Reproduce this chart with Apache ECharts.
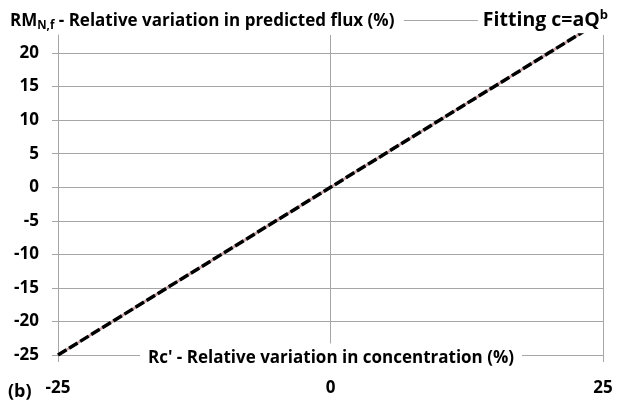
<!DOCTYPE html>
<html>
<head>
<meta charset="utf-8">
<script src="https://cdn.jsdelivr.net/npm/echarts@6/dist/echarts.min.js"></script>
<style>
  html, body { margin: 0; padding: 0; background: #fff; }
  #chart { width: 617px; height: 404px; }
</style>
</head>
<body>
<div id="chart"></div>
<script>
// Relative variation in concentration (%) and the resulting relative variation in predicted flux (%)
const rcValues = [-25, -20, -15, -10, -5, 0, 5, 10, 15, 20, 25];
const rmValues = [-25, -20, -15, -10, -5, 0, 5, 10, 15, 20, 25];
const xTickLabels = ['-25', '0', '25'];
const yTickLabels = ['-25', '-20', '-15', '-10', '-5', '0', '5', '10', '15', '20'];

const seriesName = 'Fitting';
const points = rcValues.map((x, i) => [x, rmValues[i]]);

const gridColor = '#a6a6a6';
const fontFamily = '"Open Sans", Lato, sans-serif';
const xAxisTitle = "Rc' - Relative variation in concentration (%)";

const chart = echarts.init(document.getElementById('chart'), null, { renderer: 'canvas' });

chart.setOption({
  animation: false,
  backgroundColor: '#fff',
  textStyle: { fontFamily: fontFamily },
  title: {
    left: 5,
    top: 5,
    text: '{a|RM}{sub|N,f}{a| - Relative variation in predicted flux (%)}',
    textStyle: {
      rich: {
        a: { fontFamily: fontFamily, fontWeight: 'bold', fontSize: 17, color: '#000', lineHeight: 22 },
        sub: { fontFamily: fontFamily, fontWeight: 'bold', fontSize: 11.5, color: '#000', lineHeight: 22, padding: [9, 0, 0, 0] }
      }
    }
  },
  legend: {
    right: 4,
    top: 4,
    itemWidth: 74,
    itemHeight: 1,
    data: [{
      name: seriesName,
      icon: 'rect',
      itemStyle: { color: gridColor, borderWidth: 0 },
      lineStyle: { color: gridColor, width: 1, type: 'solid' }
    }],
    formatter: () => 'Fitting c=aQ{sup|b}',
    textStyle: {
      fontFamily: fontFamily,
      fontWeight: 'bold',
      fontSize: 19.5,
      color: '#000',
      rich: {
        sup: { fontFamily: fontFamily, fontWeight: 'bold', fontSize: 13, color: '#000', padding: [0, 0, 10, 0] }
      }
    }
  },
  grid: { left: 58, right: 14, top: 35, bottom: 49, containLabel: false },
  xAxis: {
    type: 'value',
    min: -25,
    max: 25,
    interval: 25,
    axisLine: { show: true, onZero: false, lineStyle: { color: gridColor, width: 1 } },
    axisTick: { show: true, inside: false, length: 7, lineStyle: { color: gridColor } },
    axisLabel: {
      margin: 25,
      fontFamily: fontFamily,
      fontWeight: 'bold',
      fontSize: 17,
      color: '#000',
      formatter: (v) => xTickLabels[[-25, 0, 25].indexOf(v)] || ''
    },
    splitLine: { show: true, showMinLine: false, lineStyle: { color: gridColor, width: 1 } }
  },
  yAxis: {
    type: 'value',
    min: -25,
    max: 22.7,
    interval: 5,
    axisLine: { show: true, onZero: false, lineStyle: { color: gridColor, width: 1 } },
    axisTick: { show: true, inside: false, length: 6, lineStyle: { color: gridColor } },
    axisLabel: {
      margin: 19,
      showMaxLabel: false,
      fontFamily: fontFamily,
      fontWeight: 'bold',
      fontSize: 17,
      color: '#000',
      formatter: (v) => {
        const s = String(v);
        return yTickLabels.indexOf(s) >= 0 ? s : '';
      }
    },
    splitLine: { show: true, showMinLine: false, showMaxLine: false, lineStyle: { color: gridColor, width: 1 } }
  },
  graphic: [
    {
      // x-axis title sitting on the bottom axis line, on a white box
      type: 'text',
      x: 331,
      y: 358,
      z: 100,
      style: {
        text: xAxisTitle,
        align: 'center',
        verticalAlign: 'middle',
        fontFamily: fontFamily,
        fontWeight: 'bold',
        fontSize: 17,
        fill: '#000',
        backgroundColor: '#fff',
        padding: [6, 8, 6, 8]
      }
    },
    {
      type: 'text',
      left: 8,
      top: 383,
      style: {
        text: '(b)',
        fontFamily: fontFamily,
        fontWeight: 'bold',
        fontSize: 18,
        fill: '#000'
      }
    }
  ],
  series: [
    {
      name: seriesName,
      type: 'line',
      data: points,
      symbol: 'none',
      clip: true,
      z: 3,
      lineStyle: { color: '#c9a3a6', width: 2.5, type: 'solid' }
    },
    {
      name: seriesName + ' (dashed)',
      type: 'line',
      data: points,
      symbol: 'none',
      clip: true,
      z: 4,
      lineStyle: { color: '#000', width: 3.5, type: [10, 3], cap: 'butt' }
    }
  ]
});
</script>
</body>
</html>
